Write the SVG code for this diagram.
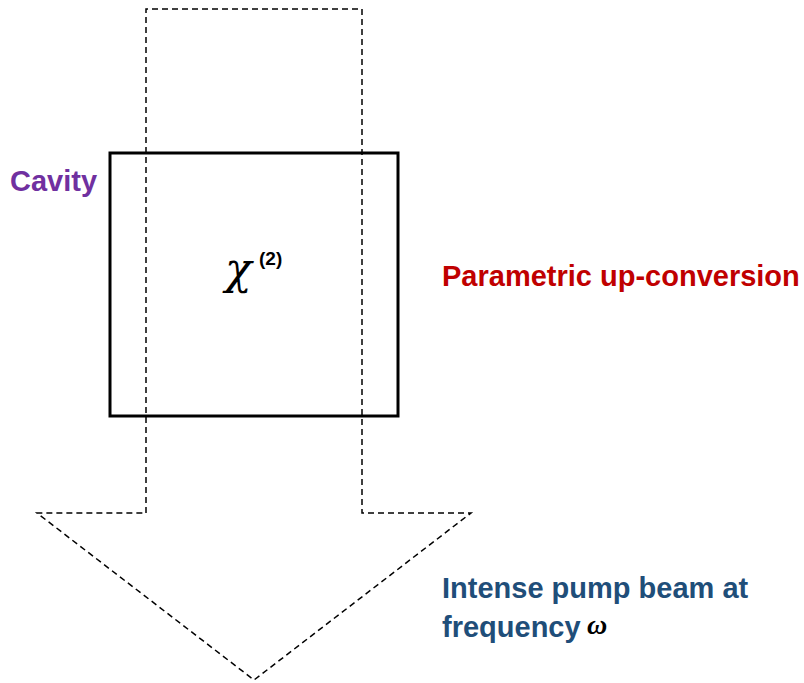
<svg xmlns="http://www.w3.org/2000/svg" width="804" height="683" viewBox="0 0 804 683">
<style>
.dash{fill:none;stroke:#000;stroke-width:1.5;stroke-dasharray:6,4}
.lbl{font-family:"Liberation Sans",Arial,sans-serif;font-weight:bold;font-size:29px}
</style>
<rect width="804" height="683" fill="#fff"/>
<g id="connectors">
<path id="pump-arrow" class="dash" d="M146,513 L146,9 L362,9 L362,513 L471,513 L254,680 L37,513 Z"/>
</g>
<g id="cavity">
<rect x="110" y="153" width="288" height="263" fill="none" stroke="#000" stroke-width="3"/>
<text x="225" y="284" font-family="DejaVu Serif,serif" font-style="italic" font-size="44">χ</text>
<text x="259" y="265" font-family="Liberation Sans,Arial,sans-serif" font-weight="bold" font-size="19">(2)</text>
</g>
<g id="label-cavity"><text class="lbl" x="10" y="191" fill="#7030A0">Cavity</text></g>
<g id="label-upconv"><text class="lbl" x="442" y="286" fill="#C00000">Parametric up-conversion</text></g>
<g id="label-pump">
<text class="lbl" x="442" y="598" fill="#1F4E79">Intense pump beam at</text>
<text class="lbl" x="442" y="637" fill="#1F4E79">frequency</text>
<text x="587" y="634" font-family="Liberation Serif,serif" font-style="italic" font-weight="bold" font-size="28" fill="#000">ω</text>
</g>
</svg>
